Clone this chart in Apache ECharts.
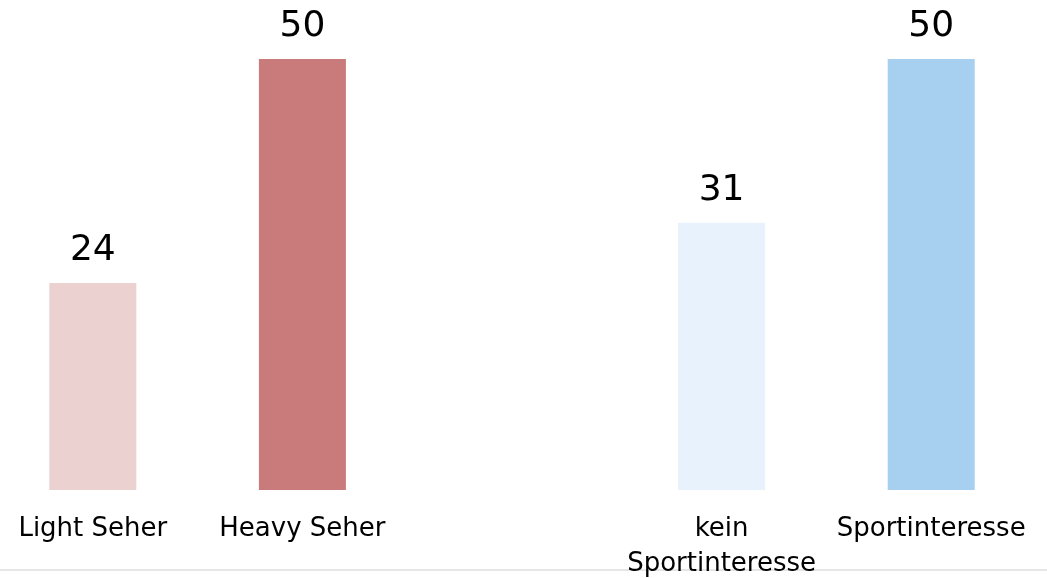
<!DOCTYPE html>
<html>
<head>
<meta charset="utf-8">
<script src="https://cdn.jsdelivr.net/npm/echarts@6/dist/echarts.min.js"></script>
<style>
  html, body { margin: 0; padding: 0; background: #ffffff; }
  #chart { width: 1047px; height: 578px; }
</style>
</head>
<body>
<div id="chart"></div>
<script>
// Kategorien (mittlerer Platz bleibt leer als Abstand zwischen den Gruppen)
const categories = ['Light Seher', 'Heavy Seher', '', 'kein\nSportinteresse', 'Sportinteresse'];
// Werte
const values = [24, 50, null, 31, 50];
// Balkenfarben
const barColors = ['#ebd1d0', '#c87b7a', '#ffffff', '#e8f2fc', '#a6cff0'];

const myChart = echarts.init(document.getElementById('chart'));

// Datenpunkte mit eigener Farbe bauen
const seriesData = values.map(function (v, i) {
  return { value: v, itemStyle: { color: barColors[i] } };
});

myChart.setOption({
  animation: false,
  backgroundColor: '#ffffff',
  grid: {
    left: -12,
    right: 11,
    top: 59,
    bottom: 88,
    outerBoundsMode: 'none',
    containLabel: false
  },
  xAxis: {
    type: 'category',
    data: categories,
    axisLine: { show: false },
    axisTick: { show: false },
    axisLabel: {
      interval: 0,
      margin: 22,
      verticalAlign: 'top',
      lineHeight: 35,
      fontFamily: 'DejaVu Sans',
      fontSize: 26,
      color: '#000000'
    }
  },
  yAxis: {
    type: 'value',
    min: 0,
    max: 50,
    show: false,
    splitLine: { show: false }
  },
  series: [
    {
      type: 'bar',
      barWidth: 87,
      data: seriesData,
      label: {
        show: true,
        position: 'top',
        distance: 14,
        fontFamily: 'DejaVu Sans',
        fontSize: 36,
        color: '#000000'
      }
    }
  ],
  graphic: [
    {
      type: 'rect',
      left: 0,
      top: 569,
      shape: { width: 1047, height: 2 },
      style: { fill: '#e6e6e6' },
      silent: true
    }
  ]
});

window.onresize = function () {
  myChart.resize();
};
</script>
</body>
</html>
